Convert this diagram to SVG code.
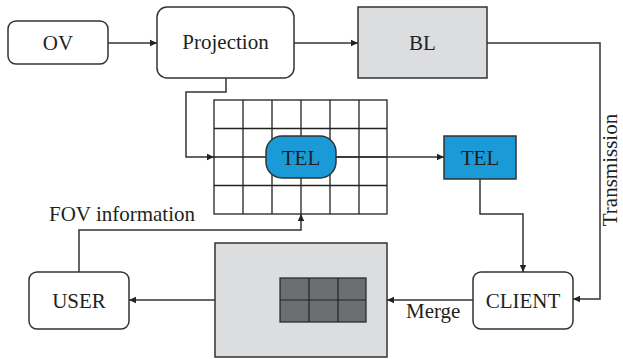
<svg xmlns="http://www.w3.org/2000/svg" width="623" height="359" viewBox="0 0 623 359">
<style>
.box{fill:#fff;stroke:#333;stroke-width:1.5}
.gray{fill:#dcdddf;stroke:#333;stroke-width:1.5}
.blue{fill:#1a9bd7;stroke:#333;stroke-width:1.5}
.dark{fill:#6d6e70;stroke:#222;stroke-width:1.2}
.grid{fill:none;stroke:#222;stroke-width:1.3}
.conn{fill:none;stroke:#333;stroke-width:1.5}
text{font-family:"Liberation Serif","Times New Roman",serif;font-size:21px;fill:#231f20}
.c{text-anchor:middle}
</style>
<defs>
<marker id="ah" markerWidth="8" markerHeight="8" refX="7" refY="4" orient="auto" markerUnits="userSpaceOnUse">
<path d="M0,0.8 L7,4 L0,7.2 z" fill="#222"/>
</marker>
</defs>
<g id="OV"><rect class="box" x="8" y="21" width="100" height="43" rx="8"/><text class="c" x="58" y="49.5">OV</text></g>
<g id="Projection"><rect class="box" x="157" y="7" width="137" height="71" rx="10"/><text class="c" x="225.5" y="49">Projection</text></g>
<g id="BL"><rect class="gray" x="358" y="7" width="129" height="71"/><text class="c" x="422.5" y="49.5">BL</text></g>
<g id="tile-grid">
<rect class="grid" x="214" y="100" width="173" height="114"/>
<path class="grid" d="M243,100V214M272,100V214M301,100V214M330,100V214M359,100V214M214,128.5H387M214,157H387M214,185.5H387"/>
</g>
<g id="TEL-inner"><rect class="blue" x="266" y="136" width="70" height="42" rx="16"/><text class="c" x="301" y="164.5">TEL</text></g>
<g id="TEL-box"><rect class="blue" x="444" y="136" width="72" height="43"/><text class="c" x="480" y="164.5">TEL</text></g>
<g id="USER"><rect class="box" x="29" y="272" width="100" height="57" rx="8"/><text class="c" x="79" y="308">USER</text></g>
<g id="merged-frame"><rect class="gray" x="215" y="243" width="172" height="114"/>
<rect class="dark" x="280" y="278" width="86" height="44"/>
<path class="dark" d="M309,278V322M338,278V322M280,300H366"/></g>
<g id="CLIENT"><rect class="box" x="473" y="272" width="100" height="57" rx="8"/><text class="c" x="523" y="308">CLIENT</text></g>
<g id="connectors">
<path class="conn" d="M108,43H157" marker-end="url(#ah)"/>
<path class="conn" d="M294,43H358" marker-end="url(#ah)"/>
<path class="conn" d="M487,43H600V299H573" marker-end="url(#ah)"/>
<path class="conn" d="M226,78V92H186V157H214" marker-end="url(#ah)"/>
<path class="conn" d="M336,157H444" marker-end="url(#ah)"/>
<path class="conn" d="M480,179V214H523V272" marker-end="url(#ah)"/>
<path class="conn" d="M473,300H387" marker-end="url(#ah)"/>
<path class="conn" d="M215,300H129" marker-end="url(#ah)"/>
<path class="conn" d="M79,272V230H301V214" marker-end="url(#ah)"/>
</g>
<text x="49" y="221">FOV information</text>
<text x="406" y="318">Merge</text>
<text class="c" transform="translate(617,170) rotate(-90)">Transmission</text>
</svg>
